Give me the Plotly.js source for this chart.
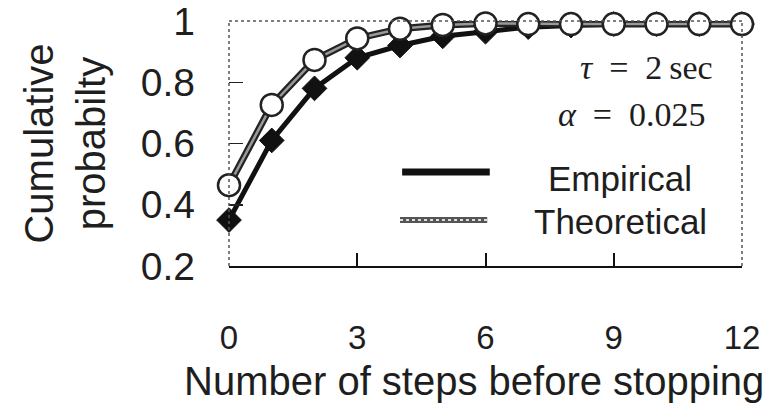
<!DOCTYPE html>
<html>
<head>
<meta charset="utf-8">
<script src="https://cdn.plot.ly/plotly-3.0.1.min.js"></script>
<style>html,body{margin:0;padding:0;background:#fff;}#chart{width:769px;height:414px;}</style>
</head>
<body>
<div id="chart"></div>
<script>
// Data
const steps = [0, 1, 2, 3, 4, 5, 6, 7, 8, 9, 10, 11, 12];
const empirical = [0.35, 0.61, 0.78, 0.88, 0.92, 0.95, 0.965, 0.98, 0.985, 0.99, 0.99, 0.99, 0.99];
const theoretical = [0.464, 0.726, 0.873, 0.943, 0.975, 0.987, 0.992, 0.99, 0.99, 0.99, 0.99, 0.99, 0.99];
const xTicks = [0, 3, 6, 9, 12];
const yTicks = [0.2, 0.4, 0.6, 0.8, 1];
const yTickText = ['0.2', '0.4', '0.6', '0.8', '1'];
const seriesNames = ['Empirical', 'Theoretical'];
const xTitle = 'Number of steps before stopping';
const yTitle = 'Cumulative<br>probabilty';

const ink = '#1e1e1e';
const sans = 'Liberation Sans, Arial, sans-serif';
const serif = 'Liberation Serif, Times New Roman, serif';

const traces = [
  {
    x: steps, y: empirical, name: seriesNames[0], type: 'scatter', mode: 'lines+markers',
    line: {color: '#111', width: 5},
    marker: {symbol: 'diamond', size: 19, color: '#111', line: {color: '#111', width: 1}},
    cliponaxis: false, showlegend: false
  },
  {
    x: steps, y: theoretical, name: seriesNames[1] + ' (edge)', type: 'scatter', mode: 'lines',
    line: {color: '#222', width: 7},
    cliponaxis: false, showlegend: false, hoverinfo: 'skip'
  },
  {
    x: steps, y: theoretical, name: seriesNames[1], type: 'scatter', mode: 'lines+markers',
    line: {color: '#999', width: 2.5},
    marker: {symbol: 'circle', size: 22, color: '#fff', line: {color: '#222', width: 2.5}},
    cliponaxis: false, showlegend: false
  }
];

const layout = {
  width: 769, height: 414,
  margin: {l: 229, r: 27, t: 21, b: 148},
  paper_bgcolor: '#fff', plot_bgcolor: '#fff',
  showlegend: false,
  font: {family: sans, color: ink},
  xaxis: {
    range: [0, 12], tickvals: xTicks, ticktext: xTicks.map(String),
    showgrid: false, zeroline: false,
    showline: true, linecolor: '#111', linewidth: 2,
    ticks: 'inside', ticklen: 13, tickwidth: 2, tickcolor: '#111',
    ticklabelstandoff: 41, ticklabeloverflow: 'allow',
    tickfont: {family: sans, size: 33, color: ink},
    automargin: false
  },
  yaxis: {
    range: [0.2, 1], tickvals: yTicks, ticktext: yTickText,
    showgrid: false, zeroline: false, showline: false,
    ticks: 'inside', ticklen: 14, tickwidth: 1.5, tickcolor: '#222',
    ticklabelstandoff: 33, ticklabeloverflow: 'allow',
    tickfont: {family: sans, size: 39, color: ink},
    title: {text: yTitle, font: {family: sans, size: 40, color: ink}, standoff: 22},
    automargin: false
  },
  shapes: [
    // dotted frame: left, top, right
    {type: 'line', xref: 'paper', yref: 'paper', x0: 0, x1: 0, y0: 0, y1: 1, line: {color: '#555', width: 1.5, dash: 'dot'}},
    {type: 'line', xref: 'paper', yref: 'paper', x0: 0, x1: 1, y0: 1, y1: 1, line: {color: '#555', width: 1.5, dash: 'dot'}},
    {type: 'line', xref: 'paper', yref: 'paper', x0: 1, x1: 1, y0: 0, y1: 1, line: {color: '#555', width: 1.5, dash: 'dot'}},
    // legend keys
    {type: 'line', xref: 'x', yref: 'y', x0: 4.05, x1: 6.1, y0: 0.507, y1: 0.507, line: {color: '#111', width: 7}},
    {type: 'line', xref: 'x', yref: 'y', x0: 4.0, x1: 6.04, y0: 0.35, y1: 0.35, line: {color: '#555', width: 6}},
    {type: 'line', xref: 'x', yref: 'y', x0: 4.0, x1: 6.04, y0: 0.35, y1: 0.35, line: {color: '#ddd', width: 2, dash: 'dot'}}
  ],
  annotations: [
    // x-axis title (placed as an annotation to match the reference's slight left offset)
    {xref: 'paper', yref: 'paper', x: 0.4776, y: -0.468, xanchor: 'center', yanchor: 'middle', showarrow: false,
     text: xTitle, font: {family: sans, size: 40, color: ink}},
    {xref: 'paper', yref: 'y', x: 0.947, y: 0.847, xanchor: 'right', yanchor: 'middle', showarrow: false,
     text: '<i>τ</i>\u2002=\u20022\u2009sec', font: {family: serif, size: 34, color: ink}},
    {xref: 'paper', yref: 'y', x: 0.934, y: 0.696, xanchor: 'right', yanchor: 'middle', showarrow: false,
     text: '<i>α</i>\u2002=\u20020.025', font: {family: serif, size: 34, color: ink}},
    {xref: 'x', yref: 'y', x: 9.15, y: 0.487, xanchor: 'center', yanchor: 'middle', showarrow: false,
     text: seriesNames[0], font: {family: sans, size: 35, color: ink}},
    {xref: 'x', yref: 'y', x: 9.15, y: 0.344, xanchor: 'center', yanchor: 'middle', showarrow: false,
     text: seriesNames[1], font: {family: sans, size: 35, color: ink}}
  ]
};

Plotly.newPlot('chart', traces, layout, {displayModeBar: false, staticPlot: true});
</script>
</body>
</html>
